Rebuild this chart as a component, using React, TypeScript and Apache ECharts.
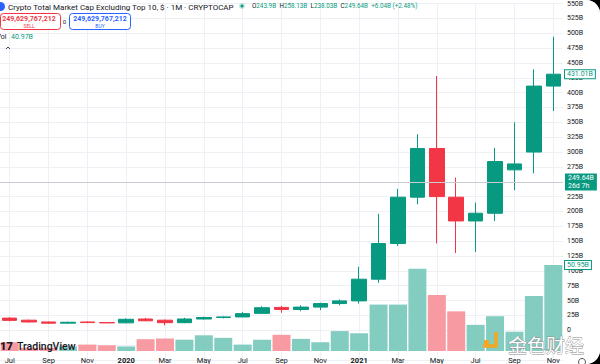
import React, { useEffect, useRef } from 'react';
import * as echarts from 'echarts';

const months = [
  'Jul 2019', 'Aug 2019', 'Sep 2019', 'Oct 2019', 'Nov 2019', 'Dec 2019',
  'Jan 2020', 'Feb 2020', 'Mar 2020', 'Apr 2020', 'May 2020', 'Jun 2020',
  'Jul 2020', 'Aug 2020', 'Sep 2020', 'Oct 2020', 'Nov 2020', 'Dec 2020',
  'Jan 2021', 'Feb 2021', 'Mar 2021', 'Apr 2021', 'May 2021', 'Jun 2021',
  'Jul 2021', 'Aug 2021', 'Sep 2021', 'Oct 2021', 'Nov 2021',
];
const opens = [20.5, 17, 14, 12, 14, 13, 12.5, 19, 17, 12.8, 19, 21.5, 22.5, 28.5, 38.5, 35, 39, 45, 49.5, 86, 146, 224, 306, 224, 184, 197, 270, 300, 411];
const closes = [16.7, 14, 12, 13.5, 13, 12.5, 18.5, 16, 12.8, 19, 21.5, 22.5, 28, 38, 35, 39, 45, 49.5, 86, 146, 224, 306, 225, 184, 197, 284, 280, 411, 431.01];
const lows = [15, 13, 11, 11.5, 12, 12, 12, 15, 8.3, 12, 18, 20, 22, 28, 29.5, 32, 34, 42, 45, 80, 142, 212, 146, 130, 132, 184, 236, 264, 369];
const highs = [22, 18, 14.5, 14.5, 15, 13.5, 20, 21, 18, 21, 23, 23.5, 31, 40.5, 41, 42, 46.5, 52, 107, 196, 238, 330, 428, 257, 215, 307, 350, 439, 494];
const volumes = [5.2, 1.9, 1.9, 2.7, 3.8, 3.4, 2.7, 7.0, 7.4, 6.7, 9.3, 7.8, 3.8, 6.7, 9.6, 7.2, 5.2, 11.8, 10.5, 27.5, 27.5, 48.7, 33.2, 23.5, 15.5, 20.6, 11.4, 32.6, 50.95];
const lastPrice = 249.64;
const lastClose = 431.01;
const lastVolume = 50.95;

const UP = '#089981';
const DOWN = '#f23645';
const UP_VOL = '#83ccc0';
const DOWN_VOL = '#f89aa2';
const FONT = 'Roboto, "Noto Sans", sans-serif';

export default function App() {
  const ref = useRef<HTMLDivElement>(null);
  useEffect(() => {
    document.body.style.margin = '0';
    if (!ref.current) return;
    const chart = echarts.init(ref.current, undefined, { renderer: 'svg' });
    const candleData = months.map((_, i) => [opens[i], closes[i], lows[i], highs[i]]);
    const volData = volumes.map((v, i) => ({
      value: v,
      itemStyle: { color: closes[i] >= opens[i] ? UP_VOL : DOWN_VOL },
    }));
    const boxLabel = (text: string) => ({
      show: true, position: 'end', distance: 2, formatter: text, fontSize: 7, fontFamily: FONT,
      color: UP, backgroundColor: '#fff', borderColor: UP, borderWidth: 1, padding: [1, 2, 0, 2],
    });
    const option: any = {
      animation: false,
      backgroundColor: '#ffffff',
      grid: [
        { left: 0, top: 0, width: 563, height: 360 },
        { left: 0, top: 265, width: 563, height: 89 },
      ],
      xAxis: [
        {
          type: 'category', gridIndex: 0, data: months, boundaryGap: true,
          axisLabel: { show: false }, axisTick: { show: false }, axisLine: { show: false },
          splitLine: { show: true, interval: 1, alignWithLabel: true, lineStyle: { color: '#eef0f5', width: 1 } },
        },
        {
          type: 'category', gridIndex: 1, data: months, boundaryGap: true,
          axisTick: { show: false }, axisLine: { show: false }, splitLine: { show: false },
          axisLabel: {
            interval: 1, margin: 5, fontSize: 7.5, color: '#131722', fontFamily: FONT,
            formatter: (v: string) => {
              const [m, y] = v.split(' ');
              return m === 'Jan' ? `{b|${y}}` : m;
            },
            rich: { b: { fontWeight: 'bold', fontSize: 7.5, color: '#131722', fontFamily: FONT } },
          },
        },
      ],
      yAxis: [
        {
          type: 'value', gridIndex: 0, position: 'right', min: -50, max: 550, interval: 25,
          axisLine: { show: false }, axisTick: { show: false },
          axisLabel: {
            margin: 4, fontSize: 7, color: '#131722', fontFamily: FONT,
            formatter: (v: number) => (v < 0 ? '' : v === 0 ? '0' : `${v}B`),
          },
          splitLine: { lineStyle: { color: '#eef0f5', width: 1 } },
        },
        {
          type: 'value', gridIndex: 1, min: 0, max: lastVolume, show: false,
          splitLine: { show: false },
        },
      ],
      series: [
        {
          type: 'bar', xAxisIndex: 1, yAxisIndex: 1, data: volData, barWidth: 18, z: 1,
          markLine: {
            symbol: ['none', 'none'], silent: true,
            data: [{ yAxis: lastVolume, lineStyle: { color: 'rgba(0,0,0,0)', width: 0 }, label: boxLabel(`${lastVolume}B`) }],
          },
        },
        {
          type: 'candlestick', xAxisIndex: 0, yAxisIndex: 0, data: candleData, barWidth: 15, z: 3,
          itemStyle: { color: UP, color0: DOWN, borderColor: UP, borderColor0: DOWN, borderWidth: 1 },
          markLine: {
            symbol: ['none', 'none'], silent: true,
            data: [
              {
                yAxis: lastPrice,
                lineStyle: { color: '#c9ccd3', width: 1, type: 'solid' },
                label: {
                  show: true, position: 'end', distance: 2, formatter: `${lastPrice}B\n26d 7h`, fontSize: 7,
                  lineHeight: 8, fontFamily: FONT, color: '#fff', backgroundColor: UP, padding: [1, 3, 0, 3],
                },
              },
              {
                yAxis: lastClose,
                lineStyle: { color: 'rgba(0,0,0,0)', width: 0 },
                label: boxLabel(`${lastClose}B`),
              },
            ],
          },
        },
      ],
      graphic: {
        elements: [
          { type: 'circle', z: 100, shape: { cx: 0.5, cy: 6.5, r: 4.5 }, style: { fill: '#2962ff' } },
          {
            type: 'text', z: 100, x: 8, y: 7,
            style: { text: 'Crypto Total Market Cap Excluding Top 10, $ · 1M · CRYPTOCAP', fontSize: 8, fontFamily: FONT, fill: '#131722', verticalAlign: 'middle' },
          },
          { type: 'circle', z: 100, shape: { cx: 242, cy: 6, r: 3 }, style: { fill: 'rgba(8,153,129,0.25)' } },
          { type: 'circle', z: 100, shape: { cx: 242, cy: 6, r: 1.5 }, style: { fill: UP } },
          {
            type: 'text', z: 100, x: 252, y: 6,
            style: {
              text: '{l|O}{v|243.9B} {l|H}{v|258.13B} {l|L}{v|238.03B} {l|C}{v|249.64B} {v|+6.04B (+2.48%)}',
              verticalAlign: 'middle',
              rich: {
                l: { fill: '#131722', fontSize: 6.3, fontFamily: FONT },
                v: { fill: UP, fontSize: 6.3, fontFamily: FONT },
              },
            },
          },
          { type: 'rect', z: 100, shape: { x: 0.5, y: 13.5, width: 60, height: 16, r: 3 }, style: { fill: '#fff', stroke: DOWN, lineWidth: 1 } },
          { type: 'text', z: 101, x: 29, y: 18.5, style: { text: '249,629,767,212', fontSize: 7, fontWeight: 'bold', fontFamily: FONT, fill: DOWN, align: 'center', verticalAlign: 'middle' } },
          { type: 'text', z: 101, x: 29, y: 25.5, style: { text: 'SELL', fontSize: 5, fontFamily: FONT, fill: DOWN, align: 'center', verticalAlign: 'middle' } },
          { type: 'text', z: 100, x: 64.5, y: 21.5, style: { text: '0', fontSize: 6, fontFamily: FONT, fill: '#131722', align: 'center', verticalAlign: 'middle' } },
          { type: 'rect', z: 100, shape: { x: 69.5, y: 13.5, width: 61, height: 16, r: 3 }, style: { fill: '#fff', stroke: '#2962ff', lineWidth: 1 } },
          { type: 'text', z: 101, x: 100, y: 18.5, style: { text: '249,629,767,212', fontSize: 7, fontWeight: 'bold', fontFamily: FONT, fill: '#2962ff', align: 'center', verticalAlign: 'middle' } },
          { type: 'text', z: 101, x: 100, y: 25.5, style: { text: 'BUY', fontSize: 5, fontFamily: FONT, fill: '#2962ff', align: 'center', verticalAlign: 'middle' } },
          { type: 'text', z: 100, x: -3.5, y: 37, style: { text: 'Vol', fontSize: 7, fontFamily: FONT, fill: '#131722', verticalAlign: 'middle' } },
          { type: 'text', z: 100, x: 11, y: 37, style: { text: '40.97B', fontSize: 7, fontFamily: FONT, fill: UP, verticalAlign: 'middle' } },
          { type: 'polyline', z: 100, shape: { points: [[6, 49], [8, 47], [10, 49]] }, style: { stroke: '#131722', lineWidth: 0.8, fill: 'none' } },
          { type: 'text', z: 100, x: 0, y: 346, style: { text: '17', fontSize: 11, fontWeight: 900, fontFamily: FONT, fill: '#131722', verticalAlign: 'middle' } },
          { type: 'text', z: 100, x: 17, y: 346, style: { text: 'TradingView', fontSize: 10.5, fontWeight: 500, fontFamily: FONT, fill: '#131722', verticalAlign: 'middle' } },
          { type: 'rect', z: 100, shape: { x: 484, y: 340, width: 5, height: 5 }, style: { fill: '#f5a623' } },
          { type: 'polyline', z: 100, shape: { points: [[496, 332], [496, 346], [483, 346]] }, style: { stroke: '#f5a623', lineWidth: 3.5, fill: 'none' } },
          {
            type: 'text', z: 100, x: 508, y: 344,
            style: { text: '金色财经', fontSize: 19, fontFamily: '"Noto Sans CJK SC", sans-serif', fill: '#ffffff', stroke: '#8d8d8d', lineWidth: 0.8, verticalAlign: 'middle' },
          },
          { type: 'circle', z: 100, shape: { cx: 582, cy: 362, r: 3.5 }, style: { fill: 'none', stroke: '#555', lineWidth: 1 } },
        ],
      },
    };
    chart.setOption(option);
    return () => chart.dispose();
  }, []);
  return (
    <div style={{ width: 600, height: 364, background: '#000' }}>
      <div
        ref={ref}
        style={{ width: 600, height: 364, background: '#fff', borderTopRightRadius: 14, borderBottomRightRadius: 14, overflow: 'hidden' }}
      />
    </div>
  );
}
